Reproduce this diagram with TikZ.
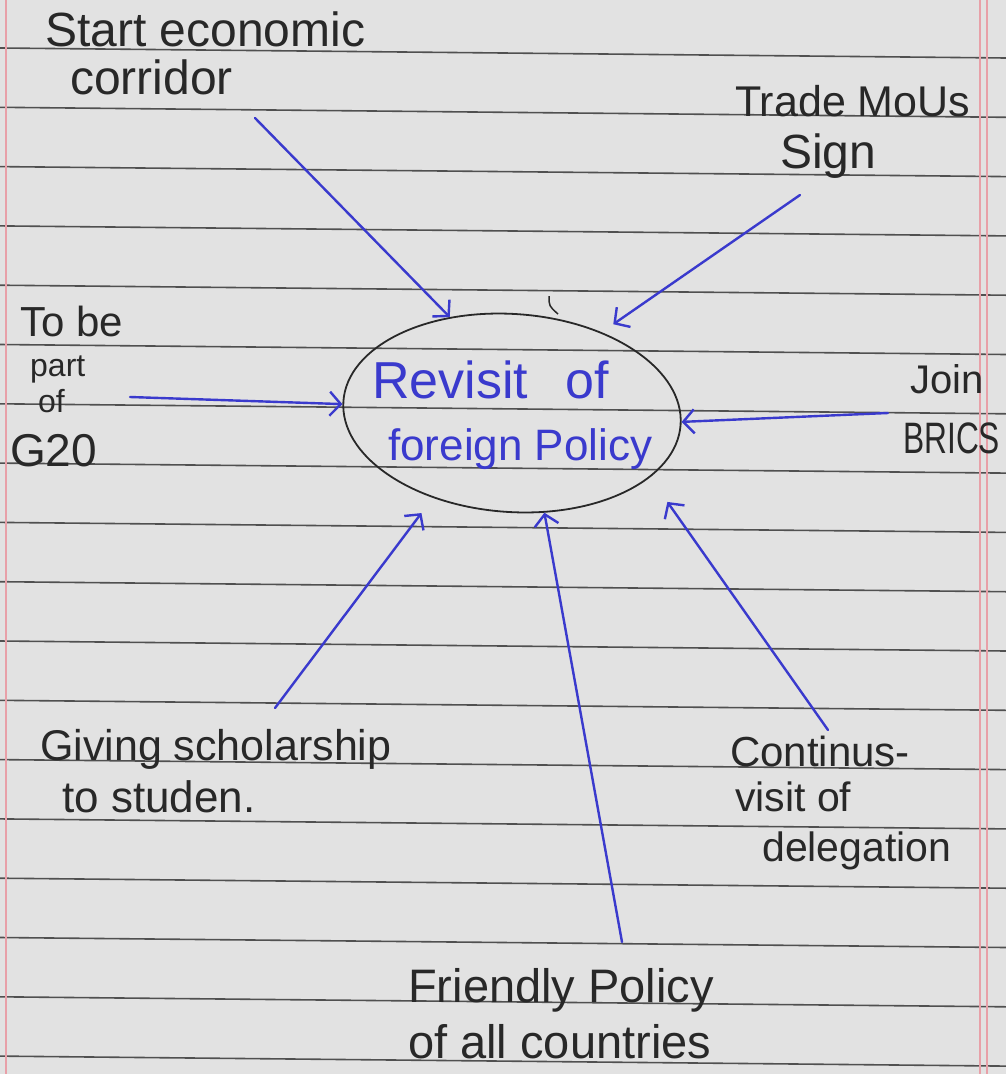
\documentclass[tikz,border=0pt]{standalone}
\usepackage{fontspec}
\setmainfont{Liberation Sans}
\usetikzlibrary{shapes.geometric,arrows.meta}
\definecolor{paper}{RGB}{226,226,226}
\definecolor{rule}{RGB}{80,80,80}
\definecolor{margin}{RGB}{232,160,168}
\definecolor{ink}{RGB}{40,40,40}
\definecolor{pen}{RGB}{58,58,205}
\tikzset{
  hand/.style={anchor=base west, inner sep=0pt, text=ink, font=\fontsize{44}{59}\selectfont},
  handb/.style={hand, text=pen},
  conn/.style={draw=pen, line width=2.4pt, line cap=round,
    -{Straight Barb[length=11pt,width=24pt,line width=2.4pt]}},
}
\begin{document}
\begin{tikzpicture}[x=1pt,y=-1pt]
\useasboundingbox (0,0) rectangle (1006,1074);
\fill[paper] (0,0) rectangle (1006,1074);
% ruled lines
\foreach \k in {0,...,17}{
  \draw[rule, line width=1.6pt] (0,{48+59.3*\k}) -- (1006,{58+59.3*\k});
}
% margins
\draw[margin, line width=1.5pt] (6,0) -- (6,1074);
\draw[margin, line width=1.5pt] (980,0) -- (980,1074);
\draw[margin, line width=1.5pt] (987,0) -- (987,1074);

% centre
\node[draw=ink, line width=1.8pt, ellipse, minimum width=338pt, minimum height=198pt, rotate=-4, inner sep=0pt] (c) at (512,413) {};
\node[handb, font=\fontsize{52}{59}\selectfont] (c1) at (372,398) {Revisit\hspace{37pt}of};
\node[handb] (c2) at (388,460) {foreign Policy};
\draw[ink, line width=1.5pt] (549,296) .. controls (549,306) .. (558,314);

% labels
\node[hand, font=\fontsize{48}{59}\selectfont] (l1a) at (45,46) {Start economic};
\node[hand, font=\fontsize{48}{59}\selectfont] (l1b) at (70,94) {corridor};
\node[hand, font=\fontsize{43}{59}\selectfont] (l2a) at (735,116) {Trade MoUs};
\node[hand, font=\fontsize{48}{59}\selectfont] (l2b) at (780,168) {Sign};
\node[hand, font=\fontsize{42}{59}\selectfont] (l3a) at (20,336) {To be};
\node[hand, font=\fontsize{32}{59}\selectfont] (l3b) at (30,376) {part};
\node[hand, font=\fontsize{32}{59}\selectfont] (l3c) at (38,412) {of};
\node[hand, font=\fontsize{46}{59}\selectfont] (l3d) at (10,466) {G20};
\node[hand, font=\fontsize{40}{59}\selectfont] (l4a) at (910,393) {Join};
\node[hand] (l4b) at (903,453) {\scalebox{0.72}[1]{BRICS}};
\node[hand, font=\fontsize{43}{59}\selectfont] (l5a) at (40,760) {Giving scholarship};
\node[hand] (l5b) at (62,812) {to studen.};
\node[hand, font=\fontsize{42}{59}\selectfont] (l7a) at (730,766) {Continus-};
\node[hand, font=\fontsize{41}{59}\selectfont] (l7b) at (735,811) {visit of};
\node[hand, font=\fontsize{41}{59}\selectfont] (l7c) at (762,861) {delegation};
\node[hand, font=\fontsize{47}{59}\selectfont] (l6a) at (408,1002) {Friendly Policy};
\node[hand, font=\fontsize{47}{59}\selectfont] (l6b) at (408,1058) {of all countries};

% arrow tails
\coordinate (s1) at (255,118);
\coordinate (s2) at (800,195);
\coordinate (s3) at (130,397);
\coordinate (s4) at (888,413);
\coordinate (s5) at (275,708);
\coordinate (s6) at (622,942);
\coordinate (s7) at (828,730);

\draw[conn] (s1) -- (c.127);
\draw[conn, shorten >=14pt] (s2) -- (c.46);
\draw[conn] (s3) -- (c.181);
\draw[conn] (s4) -- (c.1);
\draw[conn, shorten >=19pt] (s5) -- (c.231);
\draw[conn] (s6) -- (c.292);
\draw[conn, shorten >=30pt] (s7) -- (c.339);
\end{tikzpicture}
\end{document}
